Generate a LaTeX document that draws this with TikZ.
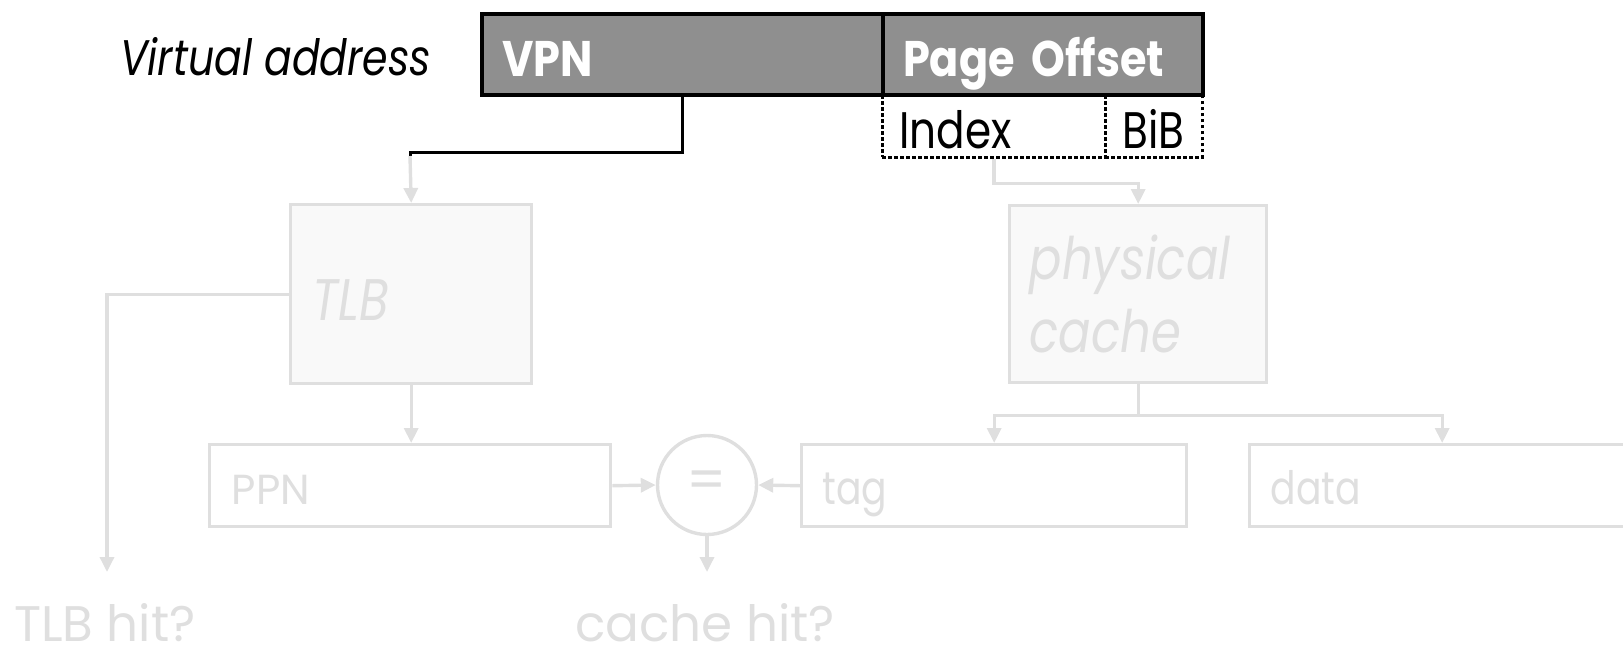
\documentclass[tikz,border=0pt]{standalone}
\usepackage{fontspec}
\setmainfont[FakeStretch=0.82]{Poppins}
\newfontfamily\addrfont[FakeStretch=0.86]{Poppins}
\newfontfamily\plainfont{Poppins}
\usepackage{xcolor}
\usepackage{tikz}
\usetikzlibrary{arrows.meta}
\usetikzlibrary{positioning}
\definecolor{fadegray}{HTML}{DFDFDF}
\definecolor{fadefill}{HTML}{F9F9F9}
\definecolor{addrgray}{HTML}{8F8F8F}
\tikzstyle{addrbox} = [draw=black, line width=2pt, fill=addrgray, text=white, anchor=north west, inner ysep=0pt, minimum height=40.5pt, text height=21.5pt, text depth=0pt, align=left, font=\fontsize{25}{30}\addrfont\bfseries]
\tikzstyle{fieldbox} = [draw=black, line width=1.3pt, dash pattern=on 1.6pt off 1.4pt, anchor=north west, inner ysep=0pt, minimum height=31.5pt, text height=22.5pt, text depth=0pt, font=\fontsize{25.7}{30}\selectfont]
\tikzstyle{fadebox} = [draw=fadegray, line width=1.7pt, anchor=north west, inner ysep=0pt, align=left, text=fadegray]
\tikzstyle{outbox} = [fadebox, minimum height=41pt, text height=19pt, text depth=0pt]
\tikzstyle{fadearrow} = [draw=fadegray, line width=1.7pt, -{Triangle[length=7.5pt,width=7pt]}]
\tikzstyle{blackwire} = [draw=black, line width=1.5pt]
\tikzstyle{hitlabel} = [anchor=base, inner sep=0pt, text=fadegray, font=\fontsize{25}{30}\plainfont]

\begin{document}
\begin{tikzpicture}[x=0.5pt, y=-0.5pt]
    \clip (0,0) rectangle (1623,650);

    % virtual address fields
    \node[anchor=base west, font=\fontsize{25}{30}\selectfont\itshape] (valabel) at (113,75) {Virtual address};
    \node[addrbox, inner xsep=10pt, text width=180.5pt] (vpn) at (480,12) {VPN};
    \node[addrbox, inner xsep=10pt, text width=140pt] (offset) at (881,12) {Page Offset};
    \node[fieldbox, inner xsep=8.5pt, text width=94.5pt, align=left] (index) at (881,93) {Index};
    \node[fieldbox, inner xsep=0pt, minimum width=48.5pt] (bib) at (1104,93) {BiB};

    % lookup blocks
    \node[fadebox, fill=fadefill, inner xsep=11pt, text width=98.5pt, minimum height=89.5pt, text height=26.5pt, text depth=0pt, font=\fontsize{29.3}{36}\selectfont\itshape] (tlb) at (289,203) {TLB};
    \node[fadebox, fill=fadefill, inner xsep=10pt, text width=108.5pt, minimum height=88.5pt, font=\fontsize{29.3}{36.5}\selectfont\itshape] (pcache) at (1008,204) {physical\\cache};

    % outputs
    \node[outbox, inner xsep=11pt, text width=178.5pt, font=\fontsize{21}{26}\plainfont] (ppn) at (208,443) {PPN};
    \node[outbox, inner xsep=10.5pt, text width=171.5pt, font=\fontsize{23}{26}\selectfont] (tag) at (800,443) {tag};
    \node[outbox, inner xsep=10.5pt, text width=171.5pt, font=\fontsize{23}{26}\selectfont] (data) at (1248,443) {data};
    \node[circle, draw=fadegray, line width=1.7pt, minimum size=49.5pt, inner sep=0pt, text=fadegray, font=\fontsize{28}{30}\plainfont] (eq) at (707,485) {=};

    \node[hitlabel] (tlbhit) at (105,641) {TLB hit?};
    \node[hitlabel] (cachehit) at (705,641) {cache hit?};
    \coordinate (tlbhitin) at (107,572);
    \coordinate (cachehitin) at (707,572);
    \coordinate (vpnturn) at (410,156);

    % connectors
    \draw[blackwire] (vpn.south) -- ++(0,55) -| (vpnturn);
    \draw[fadearrow] (vpnturn) -- (tlb.north);
    \draw[fadearrow] (index.south) -- ++(0,25) -| (pcache.north);
    \draw[fadearrow] (tlb.west) -| (tlbhitin);
    \draw[fadearrow] (tlb.south) -- (tlb.south |- ppn.north);
    \draw[fadearrow] (ppn.east) -- (eq.west);
    \draw[fadearrow] (tag.west) -- (eq.east);
    \draw[fadearrow] (eq.south) -- (cachehitin);
    \draw[fadearrow] (pcache.south) -- ++(0,31) -| (tag.north);
    \draw[fadearrow] (pcache.south) -- ++(0,31) -| (data.north);
\end{tikzpicture}
\end{document}
